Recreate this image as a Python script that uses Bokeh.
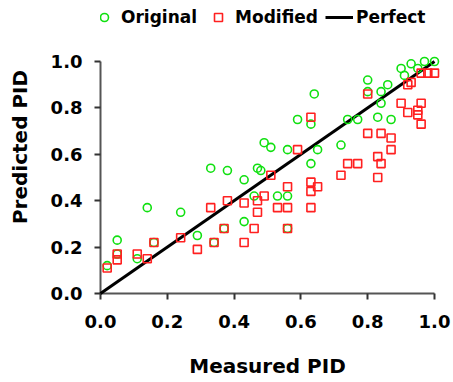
from bokeh.plotting import figure
from bokeh.models import Range1d, FixedTicker, PrintfTickFormatter, Legend, LegendItem
from bokeh.embed import file_html
from bokeh.resources import INLINE

# ---- data ----
orig_x = [0.02, 0.05, 0.05, 0.11, 0.14, 0.16, 0.24, 0.29, 0.33, 0.34, 0.37, 0.38,
          0.43, 0.43, 0.46, 0.47, 0.48, 0.49, 0.51, 0.53, 0.56, 0.56, 0.56, 0.59,
          0.63, 0.63, 0.64, 0.65, 0.72, 0.74, 0.77, 0.80, 0.80, 0.83, 0.84, 0.84,
          0.86, 0.87, 0.90, 0.91, 0.93, 0.95, 0.97, 1.00]
orig_y = [0.12, 0.23, 0.17, 0.15, 0.37, 0.22, 0.35, 0.25, 0.54, 0.22, 0.28, 0.53,
          0.49, 0.31, 0.42, 0.54, 0.53, 0.65, 0.63, 0.42, 0.42, 0.28, 0.62, 0.75,
          0.56, 0.73, 0.86, 0.62, 0.64, 0.75, 0.75, 0.92, 0.87, 0.76, 0.87, 0.82,
          0.90, 0.75, 0.97, 0.94, 0.99, 0.97, 1.00, 1.00]

mod_x = [0.02, 0.05, 0.05, 0.11, 0.14, 0.16, 0.24, 0.29, 0.33, 0.34, 0.37, 0.38,
         0.43, 0.43, 0.46, 0.47, 0.47, 0.49, 0.51, 0.53, 0.56, 0.56, 0.56, 0.59,
         0.63, 0.65, 0.63, 0.63, 0.63, 0.72, 0.74, 0.77, 0.80, 0.80, 0.83, 0.84,
         0.84, 0.83, 0.87, 0.87, 0.90, 0.92, 0.92, 0.93, 0.95, 0.95, 0.96, 0.96,
         0.96, 0.98, 1.00]
mod_y = [0.11, 0.145, 0.17, 0.17, 0.15, 0.22, 0.24, 0.19, 0.37, 0.22, 0.28, 0.40,
         0.39, 0.22, 0.28, 0.35, 0.40, 0.42, 0.51, 0.37, 0.37, 0.46, 0.28, 0.62,
         0.48, 0.46, 0.44, 0.37, 0.76, 0.51, 0.56, 0.56, 0.86, 0.69, 0.59, 0.69,
         0.56, 0.50, 0.67, 0.62, 0.82, 0.78, 0.90, 0.91, 0.79, 0.77, 0.73, 0.82,
         0.95, 0.95, 0.95]

perfect_x = [0.0, 1.0]
perfect_y = [0.0, 1.0]

tick_values = [0.0, 0.2, 0.4, 0.6, 0.8, 1.0]
x_title = "Measured PID"
y_title = "Predicted PID"
series_names = ["Original", "Modified", "Perfect"]

FONT = "DejaVu Sans"

# frame also covers the legend strip; data area is 232 px tall, its top 61 px below the frame top
Y_TOP = 1 + 61 / 232

p = figure(width=453, height=382, output_backend="svg", toolbar_location=None,
           x_range=Range1d(0, 1), y_range=Range1d(0, Y_TOP),
           min_border_left=100, min_border_right=19, min_border_top=0,
           min_border_bottom=89)
p.outline_line_color = None
p.xgrid.visible = False
p.ygrid.visible = False
p.background_fill_color = "white"

r_line = p.line(perfect_x, perfect_y, line_color="black", line_width=3, level="overlay")
r_orig = p.scatter(orig_x, orig_y, marker="circle", size=8, fill_color=None,
                   line_color="#10e010", line_width=1.6, level="overlay")
r_mod = p.scatter(mod_x, mod_y, marker="square", size=8, fill_color=None,
                  line_color="#ff2020", line_width=1.6, level="overlay")

for ax in (p.xaxis[0], p.yaxis[0]):
    ax.ticker = FixedTicker(ticks=tick_values)
    ax.formatter = PrintfTickFormatter(format="%.1f")
    ax.bounds = (0, 1)
    ax.minor_tick_line_color = None
    ax.major_tick_in = 0
    ax.major_tick_out = 6
    ax.major_tick_line_color = "#333333"
    ax.major_tick_line_width = 2
    ax.axis_line_color = "#555555"
    ax.axis_line_width = 2
    ax.major_label_text_font = FONT
    ax.major_label_text_font_style = "bold"
    ax.major_label_text_font_size = "18px"
    ax.major_label_text_color = "black"
    ax.axis_label_text_font = FONT
    ax.axis_label_text_font_style = "bold"
    ax.axis_label_text_font_size = "20px"
    ax.axis_label_text_color = "black"

p.xaxis.axis_label = x_title
p.yaxis.axis_label = y_title
p.xaxis.major_label_standoff = 15
p.xaxis.axis_label_standoff = 23
p.yaxis.major_label_standoff = 12
p.yaxis.axis_label_standoff = 16

# legend row centred 17 px below the top of the frame, kept inside the frame width
legend = Legend(items=[
    LegendItem(label=series_names[0], renderers=[r_orig]),
    LegendItem(label=series_names[1], renderers=[r_mod]),
    LegendItem(label=series_names[2], renderers=[r_line]),
], orientation="horizontal", location=(-10, 266))
legend.glyph_width = 28
legend.glyph_height = 20
legend.label_height = 20
legend.label_standoff = 3
legend.spacing = 7
legend.padding = 0
legend.margin = 0
legend.border_line_color = None
legend.background_fill_alpha = 0
legend.label_text_font = FONT
legend.label_text_font_style = "bold"
legend.label_text_font_size = "17px"
legend.label_text_color = "black"
p.add_layout(legend, "center")

open("out.html", "w").write(file_html(p, INLINE))
